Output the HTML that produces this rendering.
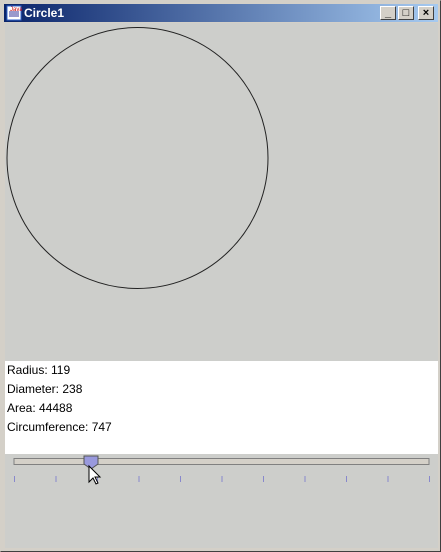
<!DOCTYPE html>
<html><head><meta charset="utf-8"><style>
body{margin:0;width:441px;height:552px;overflow:hidden;background:#d4d0c8;font-family:"Liberation Sans",sans-serif}
#win{position:absolute;left:0;top:0;width:439px;height:550px;border:1px solid #d4d0c8;border-right-color:#404040;border-bottom-color:#404040;background:#d4d0c8}
#title{position:absolute;left:3px;top:3px;width:434px;height:18px;background:linear-gradient(to right,#0a246a,#a6caf0)}
#title span{position:absolute;left:20px;top:2px;color:#fff;font-weight:bold;font-size:12px}
.btn{position:absolute;top:2px;width:16px;height:14px;background:#d4d0c8;border:1px solid #fff;border-right-color:#404040;border-bottom-color:#404040;box-sizing:border-box;font-size:11px;text-align:center;line-height:12px;font-weight:bold}
#content{position:absolute;left:4px;top:22px;width:433px;height:525px;background:#cdcecb}
#info{position:absolute;left:0;top:338px;width:433px;height:93px;background:#fff;font-size:12px;line-height:19px;color:#000}
#info div{padding-left:2px}
</style></head><body>
<div id="win">
<div id="title">
<svg style="position:absolute;left:2px;top:1px" width="16" height="16"><rect x="1" y="1" width="14" height="14" fill="#fff" stroke="#36c"/><rect x="3" y="6" width="10" height="6" fill="#99c"/><text x="4" y="6" font-size="6" fill="#c00">Java</text></svg>
<span>Circle1</span>
<div class="btn" style="left:376px">_</div>
<div class="btn" style="left:394px">□</div>
<div class="btn" style="left:414px">×</div>
</div>
<div id="content">
<svg width="433" height="338" style="position:absolute;left:0;top:0">
<circle cx="132.5" cy="135" r="130.5" fill="none" stroke="#222" stroke-width="1"/>
</svg>
<div id="info">
<div>Radius: 119</div>
<div>Diameter: 238</div>
<div>Area: 44488</div>
<div>Circumference: 747</div>
</div>
<svg width="433" height="60" style="position:absolute;left:0;top:431px">
<rect x="9" y="4.5" width="415" height="6" fill="#d4d0c8" stroke="#808080"/>
<g id="ticks" stroke="#8888cc"></g>
<path d="M79 2 h14 v8 l-7 5 l-7 -5 z" fill="#9999dd" stroke="#555"/>
<path d="M84 12 v16 l4 -4 l3 6 l2 -1 l-3 -6 h5 z" fill="#fff" stroke="#000"/>
</svg>
<script>
var g=document.getElementById('ticks');
for(var i=0;i<11;i++){var l=document.createElementNS('http://www.w3.org/2000/svg','line');var x=9.5+i*41.5;l.setAttribute('x1',x);l.setAttribute('x2',x);l.setAttribute('y1',22);l.setAttribute('y2',28);


g.appendChild(l);}
</script>
</div>
</div>
</body></html>
